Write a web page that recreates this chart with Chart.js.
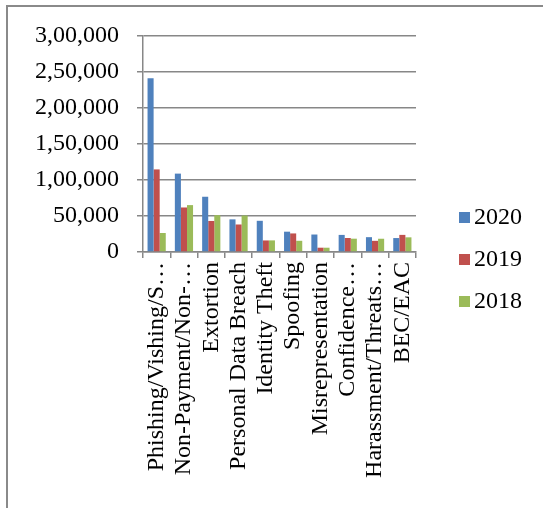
<!DOCTYPE html>
<html lang="en">
<head>
<meta charset="UTF-8">
<title>Cyber crime complaints</title>
<script src="https://cdn.jsdelivr.net/npm/chart.js"></script>
<style>
  html, body { margin: 0; padding: 0; background: #fff; overflow: hidden; }
  .moldura { position: absolute; left: 6px; top: 5px; width: 600px; height: 600px;
             border-left: 2px solid #8a8a8a; border-top: 2px solid #8a8a8a; }
  #grafico { position: absolute; left: 0; top: 0; }
  #legenda { position: absolute; left: 459px; top: 195px; margin: 0; padding: 0; list-style: none;
             font-family: "Liberation Serif", "Times New Roman", serif; font-size: 24px; color: #000; }
  #legenda li { height: 42px; line-height: 42px; white-space: nowrap; }
  #legenda span { display: inline-block; width: 11px; height: 11px; margin-right: 4px; vertical-align: 1px; }
</style>
</head>
<body>
<div class="moldura"></div>
<canvas id="grafico" width="543" height="508"></canvas>
<ul id="legenda"></ul>

<script>
  // categorias e valores
  const categorias = ['Phishing/Vishing/S\u2026', 'Non-Payment/Non-\u2026', 'Extortion', 'Personal Data Breach',
    'Identity Theft', 'Spoofing', 'Misrepresentation', 'Confidence\u2026', 'Harassment/Threats\u2026', 'BEC/EAC'];
  const anos = ['2020', '2019', '2018'];
  const valores2020 = [241342, 108869, 76741, 45330, 43330, 28218, 24276, 23751, 20604, 19369];
  const valores2019 = [114702, 61832, 43101, 38218, 16053, 25789, 5975, 19473, 15502, 23775];
  const valores2018 = [26379, 65116, 51146, 50642, 16128, 15569, 5959, 18493, 18415, 20373];
  const cores = ['#4f81bd', '#c0504d', '#9bbb59'];

  // formato indiano: 3,00,000
  function formatoIndiano(v) {
    let s = String(v);
    if (s.length <= 3) return s;
    let ult = s.slice(-3);
    let resto = s.slice(0, -3).replace(/\B(?=(\d{2})+(?!\d))/g, ',');
    return resto + ',' + ult;
  }

  const fonte = { family: '"Liberation Serif", "Times New Roman", serif', size: 24 };
  const cinza = '#878787';

  let series = [valores2020, valores2019, valores2018];
  let dados = {
    labels: categorias,
    datasets: series.map(function (s, i) {
      return {
        label: anos[i],
        data: s,
        backgroundColor: cores[i],
        borderWidth: 0,
        categoryPercentage: 0.667,
        barPercentage: 1.0
      };
    })
  };

  const config = {
    type: 'bar',
    data: dados,
    options: {
      responsive: false,
      animation: false,
      layout: { padding: { left: 0, right: 127, top: 36, bottom: 0 } },
      plugins: { legend: { display: false }, tooltip: { enabled: false } },
      scales: {
        x: {
          grid: { drawOnChartArea: false, drawTicks: true, tickLength: 6, color: cinza, lineWidth: 1.5 },
          border: { color: cinza, width: 1.5 },
          ticks: { autoSkip: false, maxRotation: 90, minRotation: 90, padding: 4, color: '#000', font: fonte },
          afterFit: function (scale) { scale.height = 508 - 252; }
        },
        y: {
          min: 0,
          max: 300000,
          grid: { color: cinza, lineWidth: 1.5, tickLength: 6 },
          border: { color: cinza, width: 1.5 },
          ticks: {
            stepSize: 50000,
            padding: 18,
            color: '#000',
            font: fonte,
            callback: function (v) { return formatoIndiano(v); }
          },
          afterFit: function (scale) { scale.width = 143; }
        }
      }
    }
  };

  let meuGrafico = new Chart(document.getElementById('grafico'), config);

  // legenda ao lado
  let lista = document.getElementById('legenda');
  meuGrafico.data.datasets.forEach(function (ds) {
    let li = document.createElement('li');
    li.innerHTML = '<span style="background:' + ds.backgroundColor + '"></span>' + ds.label;
    lista.appendChild(li);
  });
</script>
</body>
</html>
